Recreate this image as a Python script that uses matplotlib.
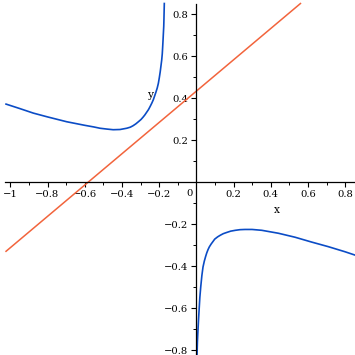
import matplotlib
matplotlib.use("Agg")
import matplotlib.pyplot as plt
from matplotlib.ticker import MultipleLocator

# left branch of the blue curve
left_x = [-1.023, -0.95, -0.876, -0.8, -0.697, -0.6, -0.55, -0.518, -0.48, -0.447,
          -0.41, -0.374, -0.355, -0.34, -0.325, -0.31, -0.297, -0.287, -0.277,
          -0.267, -0.257, -0.248, -0.239, -0.231, -0.224, -0.217, -0.21,
          -0.204, -0.199, -0.194, -0.19, -0.186, -0.183, -0.181, -0.179,
          -0.177, -0.175, -0.174, -0.172]
left_y = [0.371, 0.35, 0.328, 0.31, 0.287, 0.27, 0.262, 0.256, 0.252, 0.249,
          0.25, 0.256, 0.261, 0.268, 0.277, 0.288, 0.298, 0.308, 0.319,
          0.332, 0.345, 0.36, 0.376, 0.392, 0.41, 0.428, 0.448,
          0.47, 0.496, 0.525, 0.553, 0.581, 0.61, 0.64, 0.673,
          0.708, 0.742, 0.775, 0.85]

# right branch of the blue curve
right_x = [0.004, 0.006, 0.009, 0.012, 0.015, 0.019, 0.024, 0.03, 0.036, 0.043,
           0.05, 0.056, 0.063, 0.07, 0.08, 0.09, 0.099, 0.115, 0.13, 0.145,
           0.161, 0.185, 0.21, 0.235, 0.262, 0.3, 0.352, 0.441,
           0.531, 0.62, 0.71, 0.799, 0.853]
right_y = [-0.82, -0.76, -0.705, -0.655, -0.61, -0.55, -0.498, -0.445, -0.405, -0.377,
           -0.355, -0.338, -0.322, -0.309, -0.295, -0.283, -0.272, -0.261, -0.253, -0.246,
           -0.241, -0.234, -0.23, -0.227, -0.226, -0.226, -0.23, -0.244,
           -0.263, -0.286, -0.308, -0.332, -0.348]

# orange straight line
line_x = [-1.023, 0.56]
line_y = [-0.33, 0.85]

blue = "#0b4cc6"
orange = "#f2643c"
font = "DejaVu Serif"
fs = 7.2

fig = plt.figure(figsize=(3.55, 3.55), dpi=100)
ax = fig.add_axes([0, 0, 1, 1])
ax.patch.set_alpha(0)

ax.plot(left_x, left_y, color=blue, lw=1.2)
ax.plot(right_x, right_y, color=blue, lw=1.2)
ax.plot(line_x, line_y, color=orange, lw=1.1)

ax.set_xlim(-1.0554, 0.8532)
ax.set_ylim(-0.8238, 0.8667)

for s in ["top", "right"]:
    ax.spines[s].set_visible(False)
ax.spines["left"].set_position(("data", 0))
ax.spines["bottom"].set_position(("data", 0))
ax.spines["left"].set_bounds(-0.82, 0.848)
ax.spines["bottom"].set_bounds(-1.028, 0.853)
for s in ["left", "bottom"]:
    ax.spines[s].set_linewidth(0.9)

ax.xaxis.set_minor_locator(MultipleLocator(0.1))
ax.yaxis.set_minor_locator(MultipleLocator(0.1))

xt = [-1.0, -0.8, -0.6, -0.4, -0.2, 0.2, 0.4, 0.6, 0.8]
yt = [-0.8, -0.6, -0.4, -0.2, 0.2, 0.4, 0.6, 0.8]
ax.set_xticks(xt)
ax.set_xticklabels(["\u22121", "\u22120.8", "\u22120.6", "\u22120.4", "\u22120.2",
                    "0.2", "0.4", "0.6", "0.8"])
ax.set_yticks(yt)
ax.set_yticklabels(["\u22120.8", "\u22120.6", "\u22120.4", "\u22120.2",
                    "0.2", "0.4", "0.6", "0.8"])

ax.tick_params(which="major", length=3.5, width=0.8, pad=2.5, labelsize=fs)
ax.tick_params(which="minor", length=2, width=0.7)
for lab in ax.get_xticklabels() + ax.get_yticklabels():
    lab.set_family(font)

ax.text(-0.034, -0.055, "0", fontsize=fs, family=font, ha="center", va="center")
ax.text(0.432, -0.133, "x", fontsize=fs + 0.5, family=font, ha="center", va="center")
ax.text(-0.243, 0.414, "y", fontsize=fs + 0.5, family=font, ha="center", va="center")

fig.savefig("out.png", dpi=100)
